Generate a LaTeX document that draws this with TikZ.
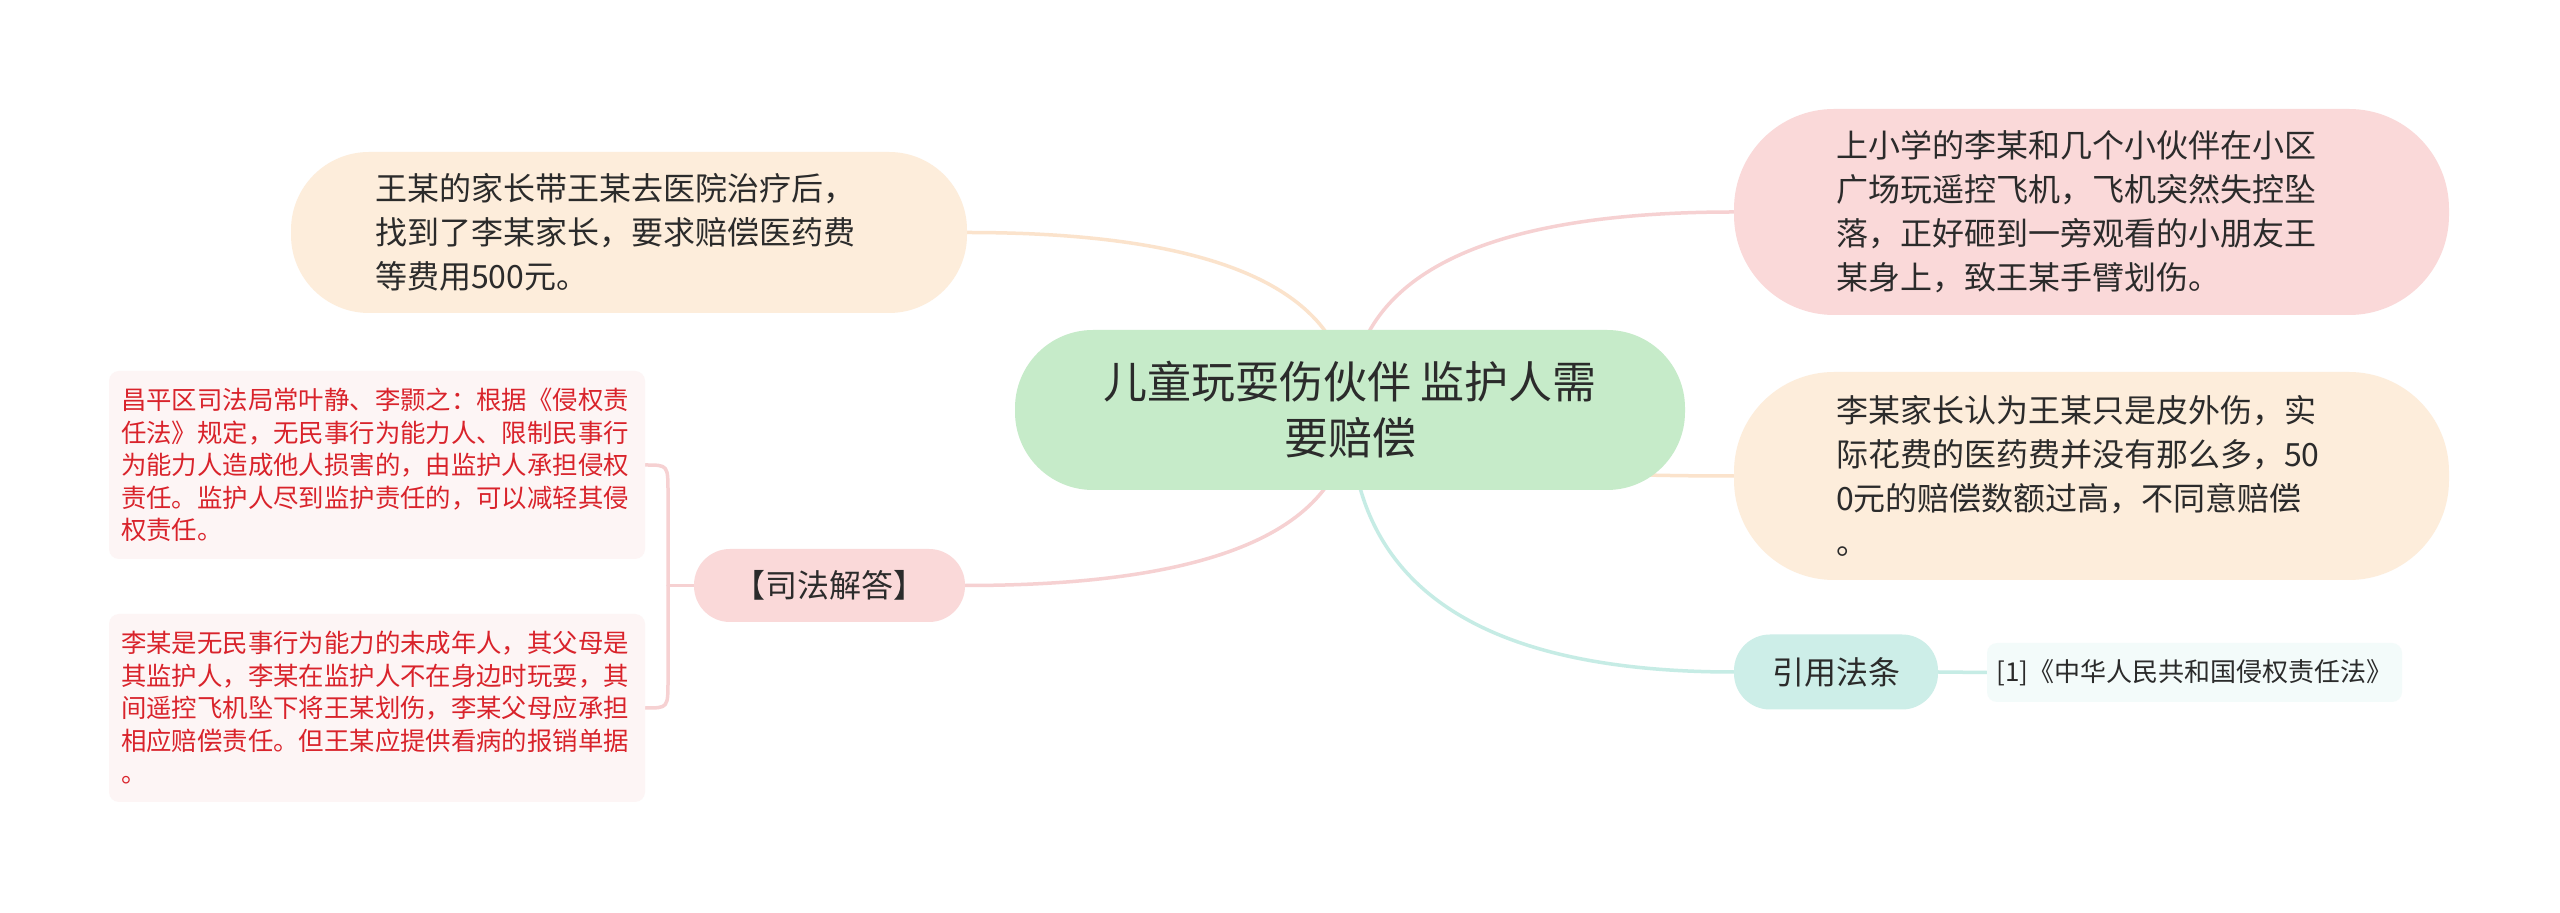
\documentclass[tikz,border=0pt]{standalone}
\usepackage{fontspec}
\setmainfont{Noto Sans CJK SC}
\usetikzlibrary{calc}
\pgfdeclarelayer{canvas}
\pgfdeclarelayer{background}
\pgfsetlayers{canvas,background,main}
\definecolor{cgreen}{HTML}{C6EBC9}
\definecolor{cpeach}{HTML}{FDEDDB}
\definecolor{cpink}{HTML}{FAD9D9}
\definecolor{cteal}{HTML}{CDEEE8}
\definecolor{creflight}{HTML}{F3FBFA}
\definecolor{credlight}{HTML}{FDF5F5}
\definecolor{cred}{HTML}{D9232B}
\definecolor{ctext}{HTML}{2B2B2B}
\definecolor{lpeach}{HTML}{FBE3CC}
\definecolor{lpink}{HTML}{F6D1D2}
\definecolor{lteal}{HTML}{C6ECE5}
\newcommand\mmlink[2]{%
  \coordinate (mmq) at (c.center |- #2);
  \draw[#1] (c.center) .. controls ($(c.center)!0.6667!(mmq)$) and ($(#2)!0.6667!(mmq)$) .. (#2);
}
\begin{document}
\begin{tikzpicture}[x=0.5pt,y=-0.5pt,
  pill/.style={inner sep=0pt, text=ctext},
  conn/.style={line width=1.75pt, line cap=round},
  bigtext/.style={font=\fontsize{16pt}{22pt}\selectfont, align=left},
  redtext/.style={font=\fontsize{12.7pt}{16.25pt}\selectfont, align=left, text=cred, text width=256pt},
  ]
\begin{pgfonlayer}{canvas}
\fill[white] (0,0) rectangle (2560,913);
\end{pgfonlayer}
\useasboundingbox (0,0) rectangle (2560,913);

% central topic
\node[pill, fill=cgreen, minimum width=335pt, minimum height=80pt, rounded corners=39pt,
  font=\fontsize{22pt}{28pt}\selectfont, align=center] (c) at (1350,410)
  {儿童玩耍伤伙伴 监护人需\\要赔偿};

% main branches
\node[pill, bigtext, fill=cpeach, minimum width=338pt, minimum height=80.5pt, rounded corners=39pt,
  text width=254pt] (tl) at (629,232.5)
  {王某的家长带王某去医院治疗后，\\找到了李某家长，要求赔偿医药费\\等费用500元。};
\node[pill, bigtext, fill=cpink, minimum width=357.5pt, minimum height=103pt, rounded corners=50pt,
  text width=255.5pt] (tr) at (2091.5,212)
  {上小学的李某和几个小伙伴在小区\\广场玩遥控飞机，飞机突然失控坠\\落，正好砸到一旁观看的小朋友王\\某身上，致王某手臂划伤。};
\node[pill, bigtext, fill=cpeach, minimum width=357.5pt, minimum height=104pt, rounded corners=50pt,
  text width=255.5pt] (rm) at (2091.5,476)
  {李某家长认为王某只是皮外伤，实\\际花费的医药费并没有那么多，50\\0元的赔偿数额过高，不同意赔偿\\。};
\node[pill, fill=cpink, minimum width=135.5pt, minimum height=36.5pt, rounded corners=18pt,
  font=\fontsize{16pt}{20pt}\selectfont] (sj) at (829.5,585.5) {【司法解答】};
\node[pill, fill=cteal, minimum width=102pt, minimum height=37.5pt, rounded corners=18pt,
  font=\fontsize{16pt}{20pt}\selectfont] (yy) at (1836,672) {引用法条};

% sub topics
\node[pill, fill=creflight, minimum width=207.5pt, minimum height=29.5pt, rounded corners=5pt,
  font=\fontsize{13pt}{16pt}\selectfont] (ref) at (2194.5,672.5) {[1]《中华人民共和国侵权责任法》};
\node[pill, redtext, fill=credlight, minimum width=268pt, minimum height=94pt, rounded corners=5pt] (lb1) at (377,465)
  {昌平区司法局常叶静、李颢之：根据《侵权责\\任法》规定，无民事行为能力人、限制民事行\\为能力人造成他人损害的，由监护人承担侵权\\责任。监护人尽到监护责任的，可以减轻其侵\\权责任。};
\node[pill, redtext, fill=credlight, minimum width=268pt, minimum height=94pt, rounded corners=5pt] (lb2) at (377,708)
  {李某是无民事行为能力的未成年人，其父母是\\其监护人，李某在监护人不在身边时玩耍，其\\间遥控飞机坠下将王某划伤，李某父母应承担\\相应赔偿责任。但王某应提供看病的报销单据\\。};

\coordinate (j) at (668,585.5);

\begin{pgfonlayer}{background}
  \mmlink{conn, lpeach}{tl.east}
  \mmlink{conn, lpink}{tr.west}
  \mmlink{conn, lpeach}{rm.west}
  \mmlink{conn, lpink}{sj.east}
  \mmlink{conn, lteal}{yy.west}
  \draw[conn, lteal] (yy.east) -- (ref.west);
  \draw[conn, lpink] (sj.west) -- (j);
  \draw[conn, lpink] (lb1.east) .. controls (668,465) .. (668,493) -- (668,680) .. controls (668,708) .. (lb2.east);
\end{pgfonlayer}
\end{tikzpicture}
\end{document}
